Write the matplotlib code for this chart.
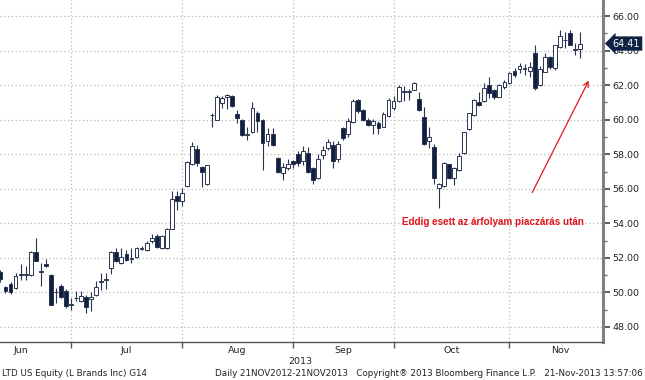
import matplotlib
matplotlib.use('Agg')
import matplotlib.pyplot as plt
import matplotlib.transforms as mtransforms

# trading-day index of the first drawn candle (Jun 3 2013 = 0)
start_day = 6

opens = [51.2, 50.3, 50.5, 50.25, 51.0, 51.0, 51.0, 52.35, 51.2, 51.65,
         51.0, 50.0, 50.4, 50.1, 49.3, 49.65, 49.5, 49.75, 49.6, 49.85,
         50.6, 50.7, 51.4, 52.35, 51.7, 52.25, 51.95, 52.05, 52.5, 52.45,
         52.95, 53.25, 52.6, 52.6, 53.7, 55.6, 55.3, 56.15, 57.45, 58.3,
         57.25, 56.25, 60.25, 60.0, 60.95, 61.3, 61.4, 60.35, 60.0, 59.1,
         59.3, 60.4, 60.0, 58.75, 59.2, 57.8, 56.9, 57.2, 57.6, 58.0,
         57.6, 58.1, 57.2, 56.6, 57.95, 58.35, 58.55, 57.75, 59.5, 59.2,
         59.85, 61.15, 60.55, 60.0, 59.7, 59.8, 59.6, 60.2, 60.7, 61.1,
         61.62, 61.62, 61.72, 61.2, 60.17, 58.77, 58.44, 56.05, 56.16, 57.42,
         56.61, 57.09, 58.05, 59.46, 60.27, 61.0, 61.1, 62.0, 61.72, 61.33,
         61.87, 62.1, 62.83, 62.92, 62.95, 62.8, 63.84, 62.0, 62.78, 63.65,
         62.97, 64.22, 64.6, 65.0, 64.05, 64.07]
highs = [51.3, 50.35, 50.6, 51.15, 51.63, 51.55, 52.4, 53.15, 51.7, 51.95,
         51.05, 50.25, 50.5, 50.2, 49.7, 50.1, 50.1, 49.85, 50.0, 50.65,
         51.1, 51.15, 52.4, 52.6, 52.55, 52.45, 52.55, 52.65, 52.7, 52.95,
         53.4, 53.4, 53.3, 53.75, 55.85, 55.85, 56.05, 57.6, 58.7, 58.55,
         57.3, 57.4, 60.4, 61.45, 61.35, 61.5, 61.45, 60.55, 60.05, 59.6,
         61.05, 60.5, 60.05, 59.5, 59.5, 57.85, 57.5, 57.7, 57.65, 58.2,
         58.45, 58.4, 57.25, 58.0, 58.5, 58.9, 58.75, 58.75, 59.55, 60.1,
         61.2, 61.2, 60.6, 60.1, 60.05, 59.95, 60.45, 61.25, 61.4, 62.0,
         61.95, 61.8, 62.2, 61.6, 60.75, 59.55, 58.6, 56.35, 57.55, 57.45,
         57.25, 58.05, 59.3, 60.4, 61.2, 61.62, 62.1, 62.49, 61.8, 62.05,
         62.3, 62.75, 63.0, 63.3, 63.2, 63.35, 64.32, 63.1, 63.85, 63.7,
         64.35, 65.19, 65.09, 65.2, 64.42, 65.09]
lows = [50.6, 49.95, 49.9, 50.2, 50.7, 50.7, 50.95, 51.8, 50.4, 51.45,
        49.25, 49.4, 49.7, 49.1, 49.0, 49.5, 49.45, 48.8, 48.9, 49.8,
        50.15, 50.2, 51.05, 51.75, 51.65, 51.8, 51.7, 52.0, 52.45, 52.4,
        52.85, 52.6, 52.5, 52.5, 53.65, 54.8, 55.0, 56.1, 57.4, 57.3,
        56.1, 56.2, 59.6, 60.0, 60.7, 60.6, 60.75, 59.8, 59.05, 58.85,
        59.25, 59.3, 57.1, 58.45, 58.5, 56.9, 56.5, 57.1, 57.2, 57.3,
        57.4, 56.9, 56.3, 56.55, 57.7, 58.25, 57.2, 57.55, 58.85, 59.0,
        59.8, 60.4, 59.95, 59.65, 59.2, 59.2, 59.55, 60.15, 60.55, 61.05,
        61.1, 61.15, 61.7, 60.5, 58.55, 58.35, 56.25, 54.87, 56.1, 56.55,
        56.2, 57.05, 58.0, 59.4, 60.2, 60.8, 61.05, 61.24, 61.2, 61.3,
        61.8, 62.05, 62.5, 62.7, 62.6, 62.5, 61.72, 61.95, 62.75, 62.95,
        62.9, 64.15, 64.13, 64.3, 63.74, 63.55]
closes = [50.75, 50.1, 50.05, 50.95, 51.05, 51.02, 52.35, 51.82, 51.25, 51.55,
          49.27, 50.05, 49.75, 49.2, 49.35, 49.7, 49.8, 49.15, 49.75, 50.3,
          50.65, 50.8, 52.35, 51.8, 52.05, 51.88, 52.0, 52.55, 52.55, 52.85,
          53.15, 52.65, 53.25, 53.7, 55.4, 55.3, 55.75, 57.55, 58.45, 57.5,
          56.95, 57.35, 60.3, 61.3, 61.25, 61.42, 60.8, 60.1, 59.1, 59.15,
          60.7, 59.9, 58.65, 59.2, 58.55, 56.95, 57.25, 57.45, 57.45, 57.5,
          58.2, 56.95, 56.5, 57.75, 58.25, 58.7, 57.6, 58.6, 58.95, 59.95,
          61.1, 60.5, 60.0, 59.7, 59.9, 59.5, 60.35, 61.15, 61.1, 61.9,
          61.68, 61.66, 62.1, 60.56, 58.57, 59.0, 56.65, 56.3, 57.5, 56.61,
          57.19, 57.92, 59.27, 60.37, 61.14, 60.85, 61.85, 61.55, 61.3, 62.0,
          62.2, 62.68, 62.6, 63.1, 62.97, 63.05, 61.82, 62.92, 63.65, 63.07,
          64.32, 64.84, 64.62, 64.32, 64.08, 64.41]

month_names = ['Jun', 'Jul', 'Aug', 'Sep', 'Oct', 'Nov']
month_starts = [0, 20, 42, 64, 84, 107]
month_ends = [20, 42, 64, 84, 107, 127]
price_ticks = [48, 50, 52, 54, 56, 58, 60, 62, 64, 66]
last_price = closes[-1]

navy = '#0f2040'
edge = '#2b3550'

fig = plt.figure(figsize=(6.45, 3.8), dpi=100)
ax = fig.add_axes([0, 0.1, 603 / 645, 0.9])

days = [start_day + k for k in range(len(opens))]
for d, o, h, l, c in zip(days, opens, highs, lows, closes):
    ax.vlines(d, l, h, color=edge, linewidth=0.8, zorder=2)
    lo, hi = min(o, c), max(o, c)
    height = max(hi - lo, 0.04)
    face = navy if c < o else 'white'
    ax.bar(d, height, bottom=lo, width=0.76, color=face, edgecolor=edge,
           linewidth=0.7, zorder=3)

# grid / ticks
ax.set_yticks(price_ticks)
ax.set_yticks([t + 1 for t in price_ticks[:-1]], minor=True)
ax.yaxis.tick_right()
ax.set_yticklabels(['%.2f' % t for t in price_ticks])
ax.tick_params(axis='y', which='major', length=5, width=1.2, color='#444444',
               pad=1.5, labelsize=6.8, labelcolor='#222222')
ax.tick_params(axis='y', which='minor', length=3, width=1, color='#666666')

ax.set_xticks(month_starts)
ax.set_xticklabels([])
mids = [(s + e) / 2 for s, e in zip(month_starts, month_ends)]
ax.set_xticks(mids, minor=True)
ax.set_xticklabels(month_names, minor=True)
ax.tick_params(axis='x', which='major', length=4, width=1, color='#555555')
ax.tick_params(axis='x', which='minor', length=0, pad=3, labelsize=6.8,
               labelcolor='#222222')

ax.set_xlim(5.91, 125.56)
ax.set_ylim(47.13, 66.93)

ax.grid(axis='y', which='major', linestyle=(0, (1, 2)), color='#b8b8b8',
        linewidth=0.9, zorder=0)
ax.grid(axis='x', which='major', linestyle=(0, (1, 2)), color='#b8b8b8',
        linewidth=0.9, zorder=0)
ax.set_axisbelow(True)

for s in ['left', 'top']:
    ax.spines[s].set_visible(False)
ax.spines['right'].set_color('#808080')
ax.spines['right'].set_linewidth(2.2)
ax.spines['bottom'].set_color('#555555')
ax.spines['bottom'].set_linewidth(1)

# last price tag
trans = mtransforms.blended_transform_factory(ax.transAxes, ax.transData)
ax.text(1.016, last_price, '%.2f' % last_price, transform=trans, color='white',
        fontsize=7, va='center', ha='left', zorder=10, clip_on=False,
        bbox=dict(boxstyle='larrow,pad=0.22', fc='#0f2245', ec='none'))

# red comment and arrow
ax.text(103.7, 54.08, 'Eddig esett az árfolyam piaczárás után', color='#e3141c',
        fontsize=7.1, fontweight='bold', family='Liberation Sans',
        ha='center', va='center', zorder=6)
ax.annotate('', xy=(122.98, 62.41), xytext=(111.27, 55.64),
            arrowprops=dict(arrowstyle='->', color='#e3141c', lw=0.9,
                            mutation_scale=9), zorder=6)

fig.text(0.465, 0.05, '2013', fontsize=6.8, ha='center', va='center',
         color='#222222')
fig.text(0.003, 0.016, 'LTD US Equity (L Brands Inc) G14', fontsize=6.3,
         ha='left', va='center', color='#222222')
fig.text(0.997, 0.016,
         'Daily 21NOV2012-21NOV2013   Copyright\u00ae 2013 Bloomberg Finance L.P.   21-Nov-2013 13:57:06',
         fontsize=6.3, ha='right', va='center', color='#222222')

fig.savefig('out.png', dpi=100)
